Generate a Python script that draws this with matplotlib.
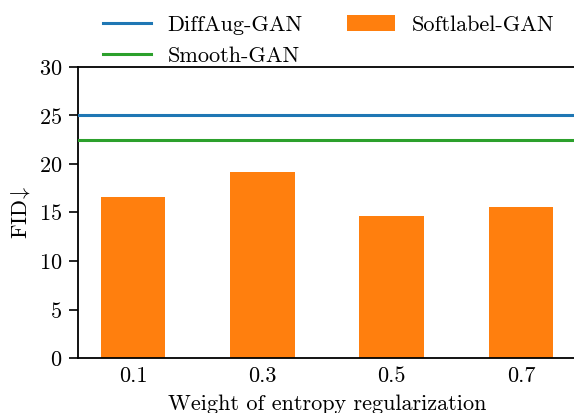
import numpy as np
import matplotlib
matplotlib.use("Agg")
import matplotlib.pyplot as plt
from matplotlib.patches import Patch
from matplotlib.lines import Line2D

plt.rcParams["font.family"] = "serif"
plt.rcParams["font.serif"] = ["cmr10", "DejaVu Serif"]
plt.rcParams["mathtext.fontset"] = "cm"
plt.rcParams["axes.formatter.use_mathtext"] = True
plt.rcParams["axes.unicode_minus"] = False

# ---- data
weights = ["0.1", "0.3", "0.5", "0.7"]
softlabel_fid = [16.6, 19.2, 14.6, 15.6]
diffaug_fid = 25.1
smooth_fid = 22.5

C_BLUE = "#1f77b4"
C_GREEN = "#2ca02c"
C_ORANGE = "#ff7f0e"
FS = 16

fig = plt.figure(figsize=(5.74, 4.13), dpi=100)
# the right spine sits just past the image edge (cropped in the original)
ax = fig.add_axes([78 / 574, 55 / 413, 498 / 574, 291 / 413])

x = np.arange(len(weights))
ax.bar(x, softlabel_fid, width=0.5, color=C_ORANGE, zorder=2)
ax.axhline(diffaug_fid, color=C_BLUE, lw=2.2, zorder=3)
ax.axhline(smooth_fid, color=C_GREEN, lw=2.2, zorder=3)

ax.set_xlim(-0.425, 3.425)
ax.set_ylim(0, 30)
ax.set_xticks(x)
ax.set_xticklabels(weights)
ax.set_yticks([0, 5, 10, 15, 20, 25, 30])
ax.tick_params(labelsize=FS, length=6.5, width=1.2, pad=5)
ax.tick_params(axis="x", length=0, pad=6)
for s in ("left", "bottom", "top"):
    ax.spines[s].set_linewidth(1.3)
ax.spines["right"].set_visible(False)

ax.set_xlabel("Weight of entropy regularization", fontsize=FS, labelpad=6.5)
ax.set_ylabel("FID$\\!\\downarrow$", fontsize=FS)
ax.yaxis.set_label_coords(-46 / 498, 0.5)

handles = [
    Line2D([0], [0], color=C_BLUE, lw=2.2, label="DiffAug-GAN"),
    Line2D([0], [0], color=C_GREEN, lw=2.2, label="Smooth-GAN"),
    Patch(facecolor=C_ORANGE, label="Softlabel-GAN"),
]
fig.legend(handles=handles, loc="upper left", bbox_to_anchor=(90 / 574, 0.995),
           ncol=2, frameon=False, fontsize=FS, handlelength=2.15,
           handletextpad=0.75, columnspacing=2.0, labelspacing=0.52,
           borderaxespad=0.2)

fig.savefig("out.png", dpi=100)
